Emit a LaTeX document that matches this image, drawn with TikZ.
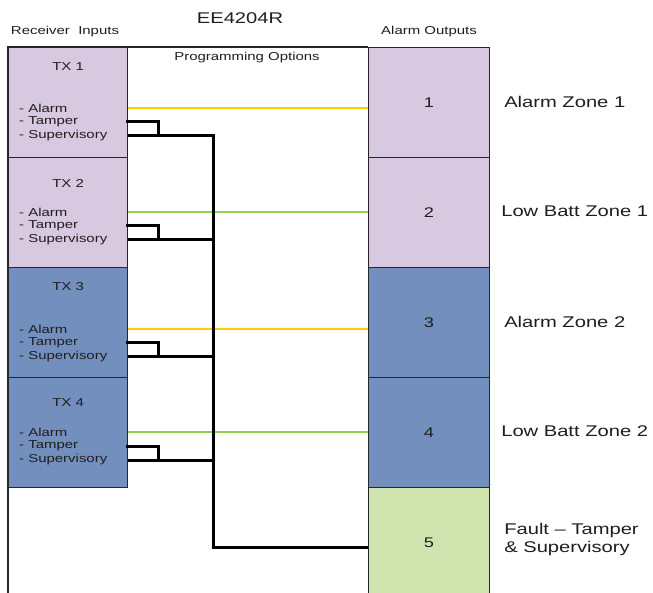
\documentclass[tikz,border=0pt]{standalone}
\usepackage{fontspec}
\setmainfont{Liberation Sans}[FakeStretch=1.3]
\usepackage{tikz}
\usetikzlibrary{calc}

\definecolor{lilac}{RGB}{216,200,224}
\definecolor{steel}{RGB}{115,143,189}
\definecolor{sage}{RGB}{208,228,176}
\definecolor{amber}{RGB}{255,204,0}
\definecolor{lime}{RGB}{146,208,80}
\definecolor{ink}{RGB}{30,30,30}

\begin{document}
\begin{tikzpicture}[x=1pt, y=-1pt,
                every node/.style={font=\fontsize{11.5}{13}\selectfont, text=ink, inner sep=0pt}, % Arial-like text
                txbox/.style={rectangle, draw=black!85, line width=1.1pt, minimum width=119pt, minimum height=110pt, anchor=north west}, % Receiver input
                outbox/.style={rectangle, draw=black!85, line width=1.1pt, minimum width=121pt, minimum height=110pt, anchor=north west, font=\fontsize{14}{16}\selectfont}, % Alarm output
                item/.style={anchor=west}, % Signal list entry
                zone/.style={anchor=west, align=left, font=\fontsize{15.5}{17.5}\selectfont}, % Zone caption
                alarmline/.style={amber, line width=2.8pt},
                battline/.style={lime, line width=2.8pt},
                wire/.style={black, line width=3pt}
                ]
                \useasboundingbox (0,0) rectangle (653,593);

                % headings
                \node (title) at (240,18) {\fontsize{15.5}{17}\selectfont EE4204R};
                \node (rxhead) at (65,32) {Receiver\ \ Inputs};
                \node (outhead) at (429,32) {Alarm Outputs};

                % alarm outputs
                \foreach \i/\c in {1/lilac,2/lilac,3/steel,4/steel,5/sage}
                    \node[outbox, fill=\c] (out\i) at (368,{47+(\i-1)*110}) {\i};

                \node[zone] (zone1) at ($(out1.east)+(14,-1)$) {Alarm Zone 1};
                \node[zone] (zone2) at ($(out2.east)+(11,-1)$) {Low Batt Zone 1};
                \node[zone] (zone3) at ($(out3.east)+(14,-1)$) {Alarm Zone 2};
                \node[zone] (zone4) at ($(out4.east)+(11,-1)$) {Low Batt Zone 2};
                \node[zone] (zone5) at ($(out5.east)+(14,-3)$) {Fault -- Tamper\\\& Supervisory};

                % programming area frame
                \draw[black!85, line width=1.1pt] (8,593) |- (out1.north west);
                \node (prog) at (247,58) {Programming Options};

                \coordinate (joint) at (158,0);
                \coordinate (bus) at (213,0);

                % receiver inputs with their signals
                \foreach \i/\c/\ty/\ay/\line in {1/lilac/20/61/alarmline, 2/lilac/26/55/battline, 3/steel/20/62/alarmline, 4/steel/26/55/battline} {
                    \node[txbox, fill=\c] (tx\i) at (8,{47+(\i-1)*110}) {};
                    \node (txname\i) at ($(tx\i.north)+(0,\ty)$) {TX \i};
                    \node[item] (al\i) at ($(tx\i.north west)+(11,\ay)$) {- Alarm};
                    \node[item] (tp\i) at ($(al\i.west)+(0,14)$) {- Tamper};
                    \node[item] (sv\i) at ($(al\i.west)+(0,28)$) {- Supervisory};
                    \draw[\line] (al\i -| tx\i.east) -- (al\i -| out\i.west);
                    \draw[wire] ($(tp\i -| tx\i.east)+(-2,0)$) -| (sv\i -| joint);
                    \draw[wire] (sv\i -| tx\i.east) -- (sv\i -| bus);
                }

                % common fault output
                \draw[wire] ($(sv1 -| bus)+(0,-1.5)$) |- ($(out5.west)+(0,5)$);
            \end{tikzpicture}
\end{document}
